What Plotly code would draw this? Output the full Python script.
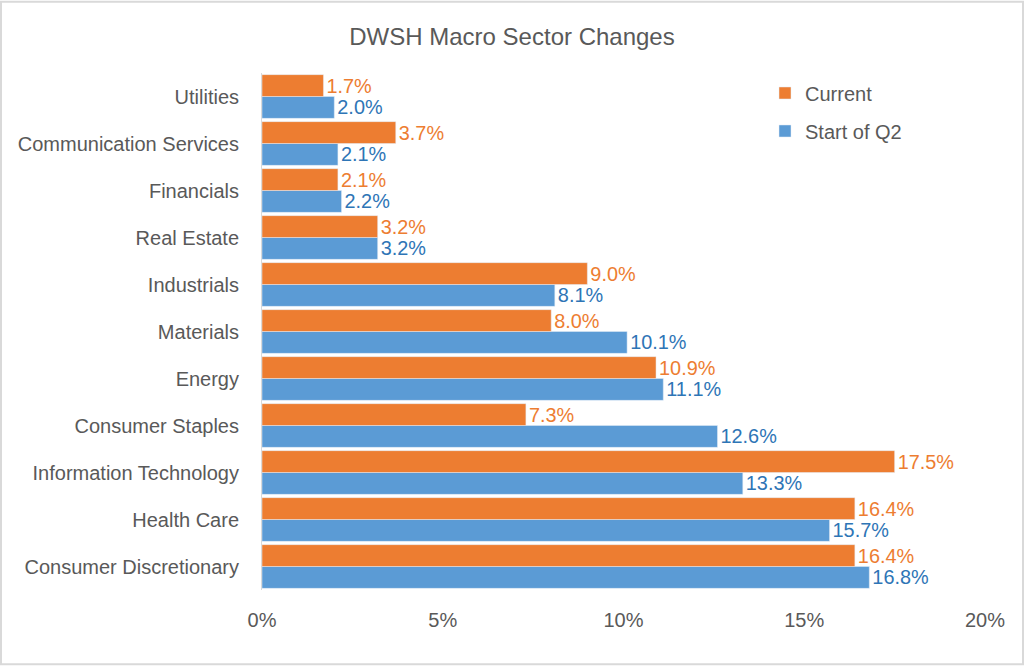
import plotly.graph_objects as go

categories = ["Utilities", "Communication Services", "Financials", "Real Estate",
              "Industrials", "Materials", "Energy", "Consumer Staples",
              "Information Technology", "Health Care", "Consumer Discretionary"]
current = [1.7, 3.7, 2.1, 3.2, 9.0, 8.0, 10.9, 7.3, 17.5, 16.4, 16.4]
start_q2 = [2.0, 2.1, 2.2, 3.2, 8.1, 10.1, 11.1, 12.6, 13.3, 15.7, 16.8]
x_ticks = [0, 5, 10, 15, 20]

FONT = "Liberation Sans Narrow, Arial Narrow, Liberation Sans, Arial"
ORANGE = "#ED7D31"
BLUE = "#5B9BD5"
LBL = 20

fig = go.Figure()
fig.add_trace(go.Bar(
    y=categories, x=start_q2, orientation="h", name="Start of Q2",
    marker_color=BLUE, texttemplate="%{x:.1f}%", textposition="outside",
    textfont=dict(color="#2E75B6", size=LBL, family=FONT), cliponaxis=False,
    legendrank=2, legendgroup="b",
))
fig.add_trace(go.Bar(
    y=categories, x=current, orientation="h", name="Current",
    marker_color=ORANGE, texttemplate="%{x:.1f}%", textposition="outside",
    textfont=dict(color=ORANGE, size=LBL, family=FONT), cliponaxis=False,
    legendrank=1, legendgroup="a",
))

L, R, T, B = 262, 39, 72.5, 75.5
W, H = 1024, 666
pw, ph = W - L - R, H - T - B

fig.update_layout(
    width=W, height=H,
    margin=dict(l=L, r=R, t=T, b=B, pad=0),
    barmode="group", bargap=0.07, bargroupgap=0.0,
    paper_bgcolor="white", plot_bgcolor="white",
    font=dict(family=FONT, color="#595959", size=19),
    title=dict(text="DWSH Macro Sector Changes", x=0.5, xanchor="center",
               y=1 - 37 / H, yanchor="middle",
               font=dict(size=24, color="#595959", family=FONT)),
    showlegend=True,
    legend=dict(x=(765 - L) / pw, y=(H - B - 73) / ph, xanchor="left", yanchor="top",
                font=dict(size=20, color="#595959", family=FONT),
                bgcolor="rgba(0,0,0,0)", tracegroupgap=9, itemwidth=30),
    xaxis=dict(range=[0, 20], tickvals=x_ticks, ticktext=[f"{v}%" for v in x_ticks],
               showgrid=False, zeroline=False, showline=False, ticks="",
               tickfont=dict(size=20, color="#595959"), ticklabelstandoff=16),
    yaxis=dict(categoryorder="array", categoryarray=categories[::-1],
               showgrid=False, zeroline=False, showline=True, linecolor="#D9D9D9",
               linewidth=1, ticks="", ticklabelstandoff=18,
               tickfont=dict(size=20, color="#595959")),
    shapes=[dict(type="rect", xref="paper", yref="paper",
                 x0=-L / pw + 1 / pw, x1=1 + (R - 1) / pw,
                 y0=-(B - 1) / ph, y1=1 + (T - 1) / ph,
                 line=dict(color="#D9D9D9", width=2), fillcolor="rgba(0,0,0,0)", layer="below")],
)

fig.write_html("out.html", config={"displayModeBar": False},
               post_script="document.body.style.margin='0';document.body.style.padding='0';")
